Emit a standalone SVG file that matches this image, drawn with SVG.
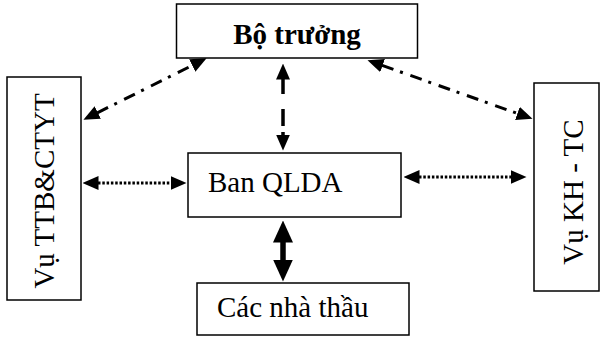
<svg xmlns="http://www.w3.org/2000/svg" width="600" height="337" viewBox="0 0 600 337">
  <style>
    .box { fill: #ffffff; stroke: #000000; stroke-width: 1.5; }
    text { font-family: 'Liberation Serif', Tinos, 'Times New Roman', 'DejaVu Serif', serif; font-size: 29px; fill: #000000; }
    .bold { font-weight: bold; }
    .dashdot { stroke: #000000; stroke-width: 3; fill: none; stroke-dasharray: 12 7 3 8; }
    .dash { stroke: #000000; stroke-width: 3.5; fill: none; stroke-dasharray: 15 15 17 6; }
    .dot { stroke: #000000; stroke-width: 3; fill: none; stroke-dasharray: 2.5 1.8; }
    .thick { stroke: #000000; stroke-width: 5.5; fill: none; }
  </style>
  <defs>
    <marker id="head" markerUnits="userSpaceOnUse" markerWidth="16" markerHeight="14" viewBox="0 0 16 14" refX="0.5" refY="7" orient="auto-start-reverse">
      <path d="M0,0 L16,7 L0,14 z" fill="#000000"/>
    </marker>
    <marker id="headBig" markerUnits="userSpaceOnUse" markerWidth="22" markerHeight="20" viewBox="0 0 22 20" refX="0.5" refY="10" orient="auto-start-reverse">
      <path d="M0,0 L22,10 L0,20 z" fill="#000000"/>
    </marker>
  </defs>

  <!-- connectors -->
  <g id="connectors">
    <line class="dashdot" x1="97.3" y1="112.8" x2="192.7" y2="65.2" marker-start="url(#head)" marker-end="url(#head)"/>
    <line class="dashdot" x1="382.1" y1="65.4" x2="517.9" y2="113.6" marker-start="url(#head)" marker-end="url(#head)"/>
    <line class="dash" x1="283" y1="79" x2="283" y2="135" marker-start="url(#head)" marker-end="url(#head)"/>
    <line class="dot" x1="98" y1="183" x2="171" y2="183" marker-start="url(#head)" marker-end="url(#head)"/>
    <line class="dot" x1="419" y1="177" x2="511" y2="177" marker-start="url(#head)" marker-end="url(#head)"/>
    <line class="thick" x1="283" y1="242" x2="283" y2="260" marker-start="url(#headBig)" marker-end="url(#headBig)"/>
  </g>

  <!-- nodes -->
  <g id="bo-truong">
    <rect class="box" x="176.5" y="4" width="241" height="54"/>
    <text class="bold" x="297" y="44" text-anchor="middle" font-family="Liberation Serif, serif">Bộ trưởng</text>
  </g>
  <g id="vu-ttb">
    <rect class="box" x="7" y="77" width="74" height="223"/>
    <text transform="translate(54,191) rotate(-90)" text-anchor="middle" font-family="Liberation Serif, serif">Vụ TTB&amp;CTYT</text>
  </g>
  <g id="vu-kh-tc">
    <rect class="box" x="534" y="83" width="65" height="208"/>
    <text transform="translate(583,192) rotate(-90)" text-anchor="middle" font-family="Liberation Serif, serif">Vụ KH - TC</text>
  </g>
  <g id="ban-qlda">
    <rect class="box" x="188" y="153" width="213" height="64"/>
    <text x="208" y="192" font-family="Liberation Serif, serif">Ban QLDA</text>
  </g>
  <g id="cac-nha-thau">
    <rect class="box" x="197" y="283" width="212" height="52"/>
    <text x="217" y="317" font-family="Liberation Serif, serif">Các nhà thầu</text>
  </g>
</svg>
